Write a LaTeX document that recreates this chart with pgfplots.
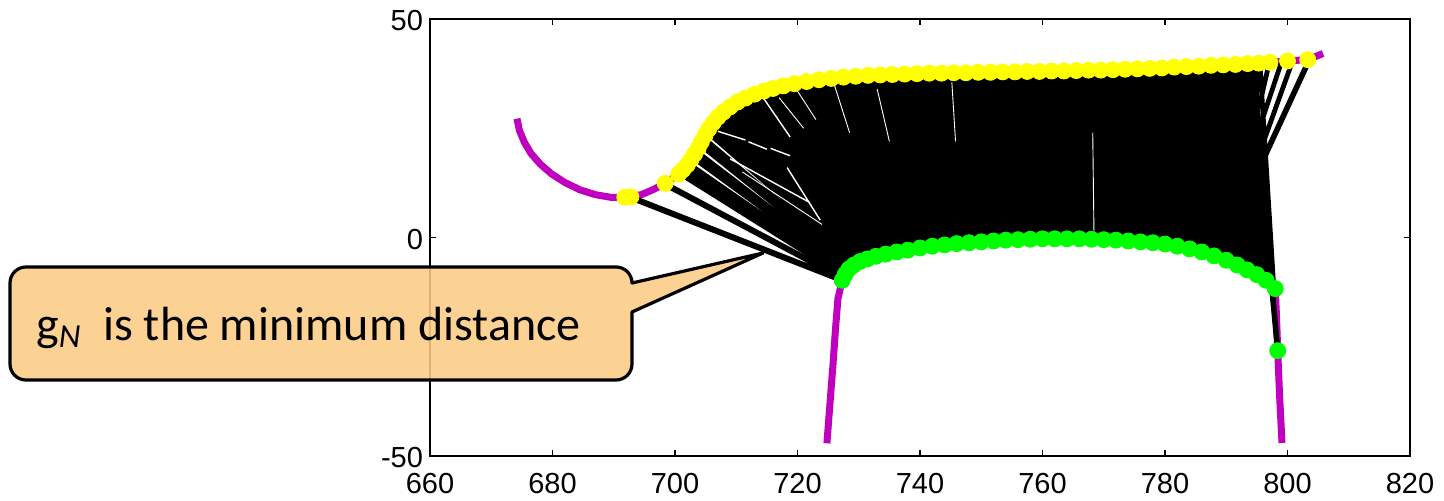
\documentclass[border=0pt]{standalone}
\usepackage{fontspec}
\setmainfont{Liberation Sans}
\newfontfamily\calibri{Carlito}
\usepackage{pgfplots}
\pgfplotsset{compat=1.18}
\definecolor{mag}{RGB}{191,0,191}
\definecolor{yel}{RGB}{255,255,0}
\definecolor{grn}{RGB}{0,255,0}
\definecolor{callout}{RGB}{252,203,133}
\begin{document}
\begin{tikzpicture}
\path[use as bounding box] (-215pt,-22pt) rectangle (507pt,228pt);
\begin{axis}[
  at={(0,0)}, anchor=south west,
  scale only axis, width=490pt, height=218.5pt,
  xmin=660, xmax=820, ymin=-50, ymax=50,
  xtick={660,680,...,820}, ytick={-50,0,50},
  tick align=inside, major tick length=3pt,
  axis line style={line width=0.8pt}, every tick/.style={black, line width=0.8pt},
  ticklabel style={font=\fontsize{14.5}{17}\selectfont},
  xticklabel style={yshift=-5pt},
  yticklabel style={yshift=-1pt},
  /pgf/number format/assume math mode=true,
  /pgf/number format/1000 sep={},
  unbounded coords=jump,
]
% master curve (purple)
\addplot[mag, line width=3.5pt, no marks] coordinates {
(674.2,27.2)(674.6,24.5)(675.4,21.8)(676.5,19.2)(678,16.8)(679.8,14.6)(682,12.6)(684.5,10.9)(687,9.8)(689.5,9.2)(692,9.2)(694.5,9.8)(696.5,11)(698.4,12.4)
(700.6,14.5)(701.3,15.5)(702,16.6)(702.6,17.8)(703.2,19.1)(703.8,20.5)(704.3,21.9)(704.9,23.4)(705.5,24.8)(706.2,26.2)(707,27.5)(707.9,28.7)(709,29.9)(710.2,31)(711.5,31.9)(713,32.8)(714.5,33.5)(716,34.1)(717.7,34.7)(719.5,35.2)(721.5,35.7)(723.5,36.1)(725.5,36.4)(727.5,36.7)(731.5,37.1)(735.5,37.3)(741.5,37.6)(749.5,37.8)(757.5,38)(765.5,38.2)(771.5,38.4)(777.5,38.7)(783.5,39.1)(789.5,39.5)(795.3,39.9)(797.1,40.1)(800,40.4)(803.3,40.7)(805.8,42.1)};
% slave curve (purple)
\addplot[mag, line width=3.5pt, no marks] coordinates {
(724.8,-47.1)(725.3,-38)(725.8,-29)(726.2,-21)(726.6,-14)(727.3,-9.8)(727.8,-8.4)(728.4,-7.2)(729.2,-6.3)(730.2,-5.5)(731.4,-4.9)(732.8,-4.3)(734.4,-3.8)(736.2,-3.3)(738,-2.9)(740,-2.4)(744,-1.7)(750,-1.0)(756,-0.5)(762,-0.3)(768,-0.4)(774,-0.8)(780,-1.5)(784,-2.6)(788,-4.2)(791.8,-6.3)(795,-8.5)(796.5,-9.8)(798,-11.7)(798.2,-18)(798.4,-25.9)(798.7,-36)(799.1,-47)};
% yellow master points
\addplot[only marks, mark=*, mark size=4pt, mark options={draw=yel, fill=yel}] coordinates {
(691.8,9.2)(692.8,9.3)(698.4,12.4)(700.6,14.5)(701.3,15.5)(702,16.6)(702.6,17.8)(703.2,19.1)(703.8,20.5)(704.3,21.9)(704.9,23.4)(705.5,24.8)(706.2,26.2)(707,27.5)(707.9,28.7)(709,29.9)(710.2,31)(711.5,31.9)(713,32.8)(714.5,33.5)(716,34.1)(717.7,34.7)(719.5,35.2)(721.5,35.7)(723.5,36.1)(725.5,36.4)(727.5,36.7)(729.5,36.9)(731.5,37.1)(733.5,37.2)(735.5,37.3)(737.5,37.4)(739.5,37.5)(741.5,37.6)(743.5,37.6)(745.5,37.7)(747.5,37.7)(749.5,37.8)(751.5,37.8)(753.5,37.9)(755.5,37.9)(757.5,38)(759.5,38)(761.5,38.1)(763.5,38.1)(765.5,38.2)(767.5,38.3)(769.5,38.3)(771.5,38.4)(773.5,38.5)(775.5,38.6)(777.5,38.7)(779.5,38.8)(781.5,39)(783.5,39.1)(785.5,39.2)(787.5,39.4)(789.5,39.5)(791.5,39.6)(793.5,39.8)(795.3,39.9)(797.1,40.1)(800,40.4)(803.3,40.7)};
% green slave points
\addplot[only marks, mark=*, mark size=4pt, mark options={draw=grn, fill=grn}] coordinates {
(727.3,-9.8)(727.8,-8.4)(728.4,-7.2)(729.2,-6.3)(730.2,-5.5)(731.4,-4.9)(732.8,-4.3)(734.4,-3.8)(736.2,-3.3)(738,-2.9)(740,-2.4)(742,-2.0)(744,-1.7)(746,-1.4)(748,-1.2)(750,-1.0)(752,-0.8)(754,-0.6)(756,-0.5)(758,-0.4)(760,-0.3)(762,-0.3)(764,-0.3)(766,-0.3)(768,-0.4)(770,-0.5)(772,-0.6)(774,-0.8)(776,-1.0)(778,-1.2)(780,-1.5)(782,-2.0)(784,-2.6)(786,-3.3)(788,-4.2)(790,-5.2)(791.8,-6.3)(793.4,-7.4)(795,-8.5)(796.5,-9.8)(798,-11.7)(798.4,-25.9)};
% solid core of the distance lines
\addplot[draw=none, fill=black, no marks] coordinates {
(705.6,24.0)(706.2,25.4)(707,26.7)(707.9,27.9)(709,29.1)(710.2,30.2)(711.5,31.1)(713,32)(714.5,32.7)(716,33.3)(719.5,34.4)(723.5,35.3)(727.5,35.9)(731.5,36.3)(735.5,36.5)(741.5,36.8)(749.5,37.0)(757.5,37.2)(765.5,37.4)(771.5,37.6)(777.5,37.9)(783.5,38.3)(789.5,38.7)(795.3,39.1)
(795.6,16.5)(797.3,-10.5)
(795,-7.7)(791.8,-5.5)(788,-3.4)(784,-1.8)(780,-0.7)(776,-0.2)(770,0.3)(764,0.5)(758,0.4)(752,0)(746,-0.6)(741,-1.4)(736,-2.5)(732.5,-3.6)(730.5,-4.6)(729.5,-5.6)} -- cycle;
% distance lines
\addplot[black, line width=3pt, no marks] coordinates {
(693.1,9.0)(727.0,-9.6) (nan,nan)
(698.4,12.2)(727.2,-9.2)};
\addplot[black, line width=2.4pt, no marks] coordinates {
(700.8,14.6)(727.4,-8.8) (nan,nan)
(701.2,15.1)(727.5,-8.6) (nan,nan)
(701.5,15.6)(727.6,-8.4) (nan,nan)
(701.9,16.2)(727.8,-8.2) (nan,nan)
(702.2,16.9)(727.9,-8.0) (nan,nan)
(702.9,18.3)(728.2,-7.6) (nan,nan)
(703.2,19.0)(728.4,-7.4) (nan,nan)
(703.5,19.7)(728.6,-7.2) (nan,nan)
(704.1,21.2)(729.0,-6.8) (nan,nan)
(704.4,22.0)(729.2,-6.6) (nan,nan)
(704.7,22.7)(729.5,-6.4) (nan,nan)
(705.3,24.1)(730.0,-6.0) (nan,nan)
(794.5,39.4)(797.3,-10.5) (nan,nan)
(795.5,39.6)(797.8,-12.5) (nan,nan)
(797.0,39.9)(795.3,29.5) (nan,nan)
(799.0,40.1)(795.4,25) (nan,nan)
(800.8,40.3)(795.6,20)};
\addplot[black, line width=2.8pt, no marks] coordinates {
(803.5,40.5)(795.6,16.5)(798.4,-25.9)};
% gaps between lines
\addplot[white, line width=0.7pt, no marks] coordinates {
(707,24.3)(711.5,22.3) (nan,nan)
(712,21.9)(715,20.2) (nan,nan)
(715.6,20.4)(718.8,18.7) (nan,nan)
(713.9,33)(718.8,23) (nan,nan)
(718.3,16)(723.7,4) (nan,nan)
(709,18)(722,8)};
\addplot[white, line width=0.45pt, no marks] coordinates {
(717,32)(721,25) (nan,nan)
(720,33.5)(723,27) (nan,nan)
(711,15)(724,3) (nan,nan)
(745.2,35.5)(745.8,22) (nan,nan)
(768.2,24)(768.4,1.5) (nan,nan)
(733,34)(735,22) (nan,nan)
(726,35)(728.5,24)};
\end{axis}
% callout
\draw[fill=callout, fill opacity=0.88, line width=1.6pt, line join=round]
  (-202pt,38pt) -- (93pt,38pt) arc[start angle=-90, end angle=0, radius=8pt]
  -- (101pt,72pt) -- (166.5pt,101.5pt) -- (101pt,86.5pt)
  arc[start angle=0, end angle=90, radius=8pt]
  -- (-202pt,94.5pt) arc[start angle=90, end angle=180, radius=8pt]
  -- (-210pt,46pt) arc[start angle=180, end angle=270, radius=8pt] -- cycle;
\node[anchor=base west, inner sep=0pt, font=\calibri\fontsize{24}{28}\selectfont] at (-197pt,58pt) {g\textsubscript{\itshape N}\ \ is the minimum distance};
\end{tikzpicture}
\end{document}
